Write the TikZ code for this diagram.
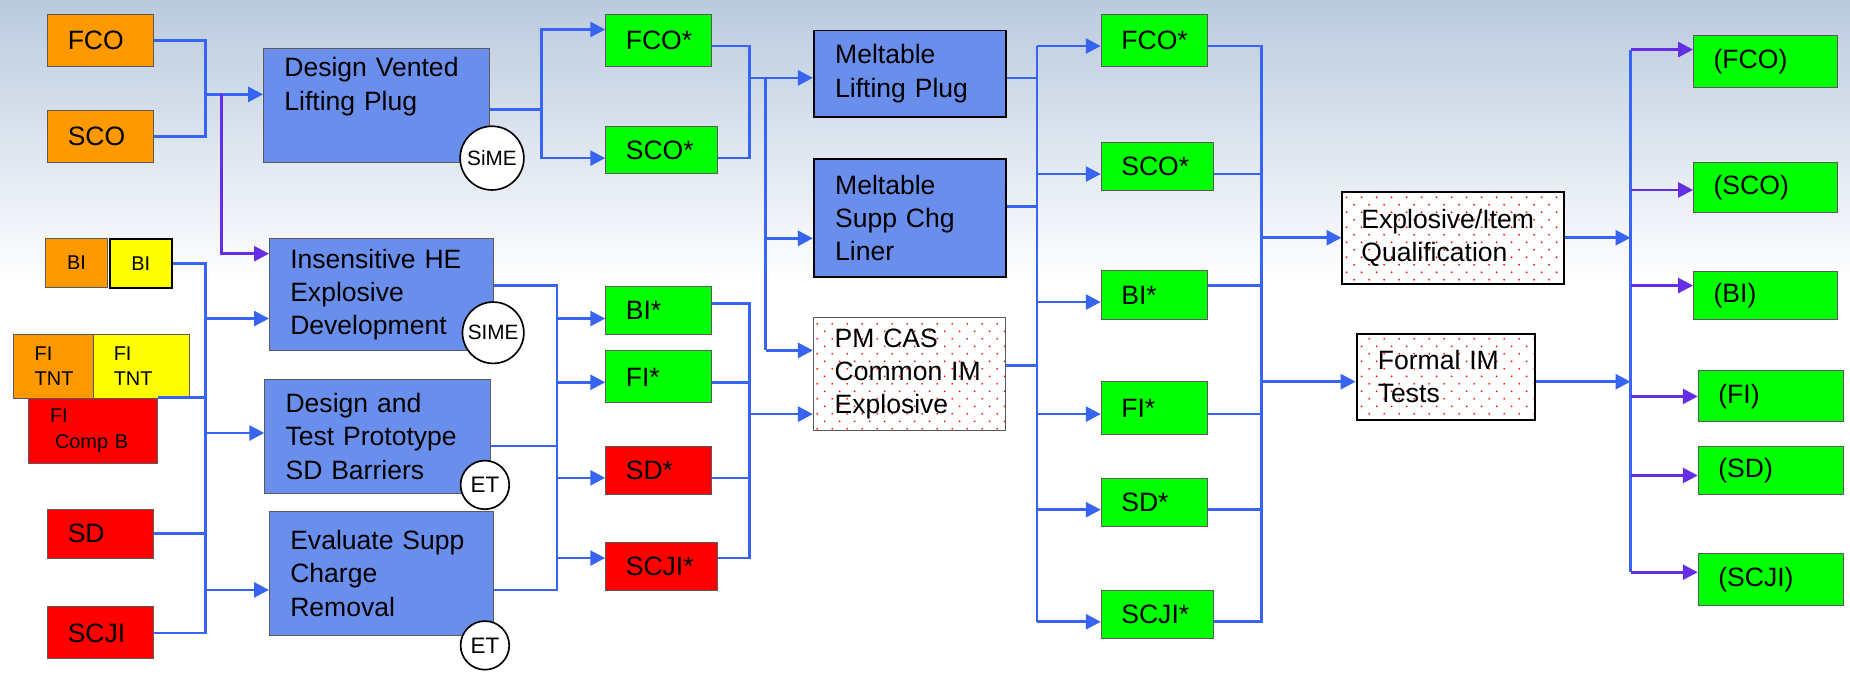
\documentclass[tikz,border=0pt]{standalone}
\usepackage{fontspec}
\setmainfont{Liberation Sans}
\usetikzlibrary{arrows.meta,patterns}

\definecolor{bgtop}{RGB}{186,202,222}
\definecolor{procblue}{RGB}{106,142,236}
\definecolor{linkblue}{RGB}{55,100,240}
\definecolor{linkpurple}{RGB}{102,45,230}
\definecolor{tagorange}{RGB}{255,153,0}
\definecolor{tagyellow}{RGB}{255,255,0}
\definecolor{tagred}{RGB}{255,0,0}
\definecolor{taggreen}{RGB}{0,255,0}
\definecolor{rimgray}{RGB}{90,90,90}

% staggered red dots for the qualification boxes
\pgfdeclarepatternformonly{reddots}{\pgfqpoint{0pt}{0pt}}{\pgfqpoint{9pt}{9pt}}{\pgfqpoint{9pt}{9pt}}{%
  \pgfpathcircle{\pgfqpoint{2.25pt}{2.25pt}}{0.6pt}%
  \pgfpathcircle{\pgfqpoint{6.75pt}{6.75pt}}{0.6pt}%
  \pgfusepath{fill}%
}

\begin{document}
\begin{tikzpicture}[x=0.025cm, y=-0.025cm,
  every node/.style={font=\fontsize{16}{20}\selectfont},
  cell/.style={draw=rimgray, line width=0.6pt, anchor=north west, inner xsep=0.425cm, inner ysep=0pt, align=left},
  chip/.style={cell, text width=1.4cm, minimum height=1.1cm},
  wide/.style={text width=1.525cm},
  proc/.style={cell, fill=procblue, inner xsep=0.44cm, text width=3.9cm},
  heavy/.style={cell, draw=black, line width=1.2pt, inner xsep=0.45cm},
  speckled/.style={preaction={fill=white}, pattern=reddots, pattern color=red},
  bibox/.style={draw=rimgray, line width=0.6pt, anchor=north west, inner sep=0pt, minimum width=1.325cm, minimum height=1.025cm, font=\fontsize{12}{14}\selectfont},
  smalltext/.style={font=\fontsize{12}{15.5}\selectfont},
  stamp/.style={circle, draw=black, line width=1pt, fill=white, inner sep=0pt, font=\fontsize{12.5}{14}\selectfont},
  link/.style={draw=linkblue, line width=1.6pt},
  linkto/.style={link, -{Triangle[length=9pt,width=9pt]}},
  purpleto/.style={linkto, draw=linkpurple}]

  % Background
  \shade[top color=bgtop, bottom color=white] (0,0) rectangle (1568,240);
  \useasboundingbox (0,0) rectangle (1568,575);

  % Inputs
  \node[chip, fill=tagorange] (fco) at (40,12) {FCO};
  \node[chip, fill=tagorange] (sco) at (40,93) {SCO};
  \node[bibox, fill=tagorange] (bia) at (38,202) {BI};
  \node[bibox, fill=tagyellow, draw=black, line width=1.2pt] (bib) at (92,202) {BI};
  \node[cell, smalltext, fill=tagred, inner xsep=0.45cm, text width=1.825cm, minimum height=1.375cm] (compb) at (24,337) {FI\\\hspace*{3pt}Comp B};
  \node[cell, smalltext, fill=tagorange, inner xsep=0.45cm, text width=0.8cm, minimum height=1.35cm] (tnta) at (11,283) {FI\\TNT};
  \node[cell, smalltext, fill=tagyellow, text width=1.175cm, minimum height=1.35cm] (tntb) at (79,283) {FI\\TNT};
  \node[chip, fill=tagred, minimum height=1.05cm] (sd) at (40,431) {SD};
  \node[chip, fill=tagred] (scji) at (40,514) {SCJI};

  % Development tasks
  \node[proc, minimum height=2.4cm] (dvlp) at (223,41) {Design Vented\\Lifting Plug\\\strut};
  \node[proc, text width=3.87cm, minimum height=2.375cm] (ihe) at (228,202) {Insensitive HE\\Explosive\\Development};
  \node[proc, minimum height=2.425cm] (dtp) at (224,321) {Design and\\Test Prototype\\SD Barriers};
  \node[proc, text width=3.87cm, minimum height=2.625cm] (esc) at (228,433) {Evaluate Supp\\Charge\\Removal};
  \node[stamp, minimum size=1.35cm] (sime1) at (417,134) {SiME};
  \node[stamp, minimum size=1.3cm] (sime2) at (418,282) {SIME};
  \node[stamp, minimum size=1.03cm, font=\fontsize{13.5}{15}\selectfont] (et1) at (411,411) {ET};
  \node[stamp, minimum size=1.03cm, font=\fontsize{13.5}{15}\selectfont] (et2) at (411,547) {ET};

  % First results
  \node[chip, fill=taggreen] (fcos1) at (513,12) {FCO*};
  \node[chip, wide, fill=taggreen, minimum height=1.0cm] (scos1) at (513,107) {SCO*};
  \node[chip, fill=taggreen, minimum height=1.025cm] (bis1) at (513,242) {BI*};
  \node[chip, fill=taggreen] (fis1) at (513,297) {FI*};
  \node[chip, fill=tagred, minimum height=1.025cm] (sds1) at (513,378) {SD*};
  \node[chip, wide, fill=tagred, minimum height=1.025cm] (scjis1) at (513,459) {SCJI*};

  % Meltable items
  \node[heavy, fill=procblue, text width=3.175cm, minimum height=1.825cm] (mlp) at (689,25) {Meltable\\Lifting Plug};
  \node[heavy, fill=procblue, text width=3.175cm, minimum height=2.5cm] (mscl) at (689,134) {Meltable\\Supp Chg\\Liner};
  \node[cell, speckled, inner xsep=0.45cm, text width=3.175cm, minimum height=2.375cm] (pmcas) at (689,269) {PM CAS\\Common IM\\Explosive};

  % Second results
  \node[chip, fill=taggreen] (fcos2) at (933,12) {FCO*};
  \node[chip, wide, fill=taggreen, minimum height=1.025cm] (scos2) at (933,120) {SCO*};
  \node[chip, fill=taggreen, minimum height=1.025cm] (bis2) at (933,229) {BI*};
  \node[chip, fill=taggreen, minimum height=1.125cm] (fis2) at (933,323) {FI*};
  \node[chip, fill=taggreen, minimum height=1.025cm] (sds2) at (933,405) {SD*};
  \node[chip, wide, fill=taggreen, minimum height=1.025cm] (scjis2) at (933,500) {SCJI*};

  % Qualification
  \node[heavy, speckled, inner xsep=0.4cm, text width=3.9cm, minimum height=1.95cm] (eiq) at (1137,162) {Explosive/Item\\Qualification};
  \node[heavy, speckled, text width=2.875cm, minimum height=1.825cm] (fim) at (1149,282) {Formal IM\\Tests};

  % Outcomes
  \node[chip, fill=taggreen, text width=2.2cm, minimum height=1.1cm] (out1) at (1435,30) {(FCO)};
  \node[chip, fill=taggreen, text width=2.2cm, minimum height=1.075cm] (out2) at (1435,137) {(SCO)};
  \node[chip, fill=taggreen, text width=2.2cm, minimum height=1.0cm] (out3) at (1435,230) {(BI)};
  \node[chip, fill=taggreen, text width=2.225cm, minimum height=1.075cm] (out4) at (1439,314) {(FI)};
  \node[chip, fill=taggreen, text width=2.225cm, minimum height=1.025cm] (out5) at (1439,378) {(SD)};
  \node[chip, fill=taggreen, text width=2.225cm, minimum height=1.1cm] (out6) at (1439,469) {(SCJI)};

  % Inputs -> tasks
  \coordinate (ja) at (174,80);
  \draw[link] (fco.east) -| (ja) |- (sco.east);
  \draw[linkto] (ja) -- (ja -| dvlp.west);
  \coordinate (pa) at (188,80);
  \coordinate (pb) at (188,215);
  \draw[purpleto] (pa) -- (pb) -- (pb -| ihe.west);
  \coordinate (jb) at (174,229);
  \draw[link] (bib.east) -| (scji.east -| jb) -- (scji.east);
  \draw[link] (compb.north east) -- (compb.north east -| jb);
  \draw[link] (sd.east) -- (sd.east -| jb);
  \coordinate (jc) at (174,270);
  \coordinate (jd) at (174,367);
  \coordinate (je) at (174,500);
  \draw[linkto] (jc) -- (jc -| ihe.west);
  \draw[linkto] (jd) -- (jd -| dtp.west);
  \draw[linkto] (je) -- (je -| esc.west);

  % Tasks -> first results
  \coordinate (ka) at (459,93);
  \coordinate (kb) at (459,25);
  \coordinate (kc) at (459,134);
  \draw[link] (ka -| dvlp.east) -- (ka);
  \draw[linkto] (ka) -- (kb) -- (kb -| fcos1.west);
  \draw[linkto] (ka) -- (kc) -- (kc -| scos1.west);
  \coordinate (la) at (472,242);
  \coordinate (lb) at (472,378);
  \coordinate (lc) at (472,500);
  \draw[link] (la -| ihe.east) -- (la) -- (lc) -- (lc -| esc.east);
  \draw[link] (lb -| dtp.east) -- (lb);
  \coordinate (ld) at (472,270);
  \coordinate (le) at (472,324);
  \coordinate (lf) at (472,405);
  \coordinate (lg) at (472,473);
  \draw[linkto] (ld) -- (ld -| bis1.west);
  \draw[linkto] (le) -- (le -| fis1.west);
  \draw[linkto] (lf) -- (lf -| sds1.west);
  \draw[linkto] (lg) -- (lg -| scjis1.west);

  % First results -> meltable items
  \coordinate (ma) at (635,39);
  \coordinate (mb) at (635,134);
  \coordinate (mc) at (635,66);
  \draw[link] (ma -| fcos1.east) -- (ma) -- (mb) -- (mb -| scos1.east);
  \draw[linkto] (mc) -- (mc -| mlp.west);
  \coordinate (md) at (649,66);
  \coordinate (me) at (649,202);
  \coordinate (mf) at (649,297);
  \draw[link] (md) -- (mf);
  \draw[linkto] (me) -- (me -| mscl.west);
  \draw[linkto] (mf) -- (mf -| pmcas.west);
  \coordinate (na) at (635,257);
  \coordinate (nb) at (635,324);
  \coordinate (nc) at (635,405);
  \coordinate (nd) at (635,473);
  \coordinate (ne) at (635,351);
  \draw[link] (na -| bis1.east) -- (na) -- (nd) -- (nd -| scjis1.east);
  \draw[link] (nb -| fis1.east) -- (nb);
  \draw[link] (nc -| sds1.east) -- (nc);
  \draw[linkto] (ne) -- (ne -| pmcas.west);

  % Meltable items -> second results
  \coordinate (oa) at (879,39);
  \coordinate (ob) at (879,527);
  \draw[link] (oa) -- (ob);
  \coordinate (oc) at (879,66);
  \coordinate (od) at (879,175);
  \coordinate (oe) at (879,310);
  \draw[link] (oc -| mlp.east) -- (oc);
  \draw[link] (od -| mscl.east) -- (od);
  \draw[link] (oe -| pmcas.east) -- (oe);
  \coordinate (of) at (879,147.5);
  \coordinate (og) at (879,256);
  \coordinate (oh) at (879,351);
  \coordinate (oi) at (879,432);
  \draw[linkto] (oa) -- (oa -| fcos2.west);
  \draw[linkto] (of) -- (of -| scos2.west);
  \draw[linkto] (og) -- (og -| bis2.west);
  \draw[linkto] (oh) -- (oh -| fis2.west);
  \draw[linkto] (oi) -- (oi -| sds2.west);
  \draw[linkto] (ob) -- (ob -| scjis2.west);

  % Second results -> qualification
  \coordinate (qa) at (1069,39);
  \coordinate (qb) at (1069,527);
  \draw[link] (qa -| fcos2.east) -- (qa) -- (qb) -- (qb -| scjis2.east);
  \coordinate (qc) at (1069,147.5);
  \coordinate (qd) at (1069,242);
  \coordinate (qe) at (1069,351);
  \coordinate (qf) at (1069,432);
  \draw[link] (qc -| scos2.east) -- (qc);
  \draw[link] (qd -| bis2.east) -- (qd);
  \draw[link] (qe -| fis2.east) -- (qe);
  \draw[link] (qf -| sds2.east) -- (qf);
  \coordinate (qg) at (1069,201.5);
  \coordinate (qh) at (1069,323.5);
  \draw[linkto] (qg) -- (qg -| eiq.west);
  \draw[linkto] (qh) -- (qh -| fim.west);

  % Qualification -> outcomes
  \coordinate (ra) at (1382,42);
  \coordinate (rb) at (1382,485);
  \draw[link] (ra) -- (rb);
  \coordinate (rc) at (1382,201.5);
  \coordinate (rd) at (1382,323.5);
  \draw[linkto] (rc -| eiq.east) -- (rc);
  \draw[linkto] (rd -| fim.east) -- (rd);
  \coordinate (re) at (1382,161);
  \coordinate (rf) at (1382,242);
  \coordinate (rg) at (1382,336);
  \coordinate (rh) at (1382,403);
  \draw[purpleto] (ra) -- (ra -| out1.west);
  \draw[purpleto] (re) -- (re -| out2.west);
  \draw[purpleto] (rf) -- (rf -| out3.west);
  \draw[purpleto] (rg) -- (rg -| out4.west);
  \draw[purpleto] (rh) -- (rh -| out5.west);
  \draw[purpleto] (rb) -- (rb -| out6.west);
\end{tikzpicture}
\end{document}
